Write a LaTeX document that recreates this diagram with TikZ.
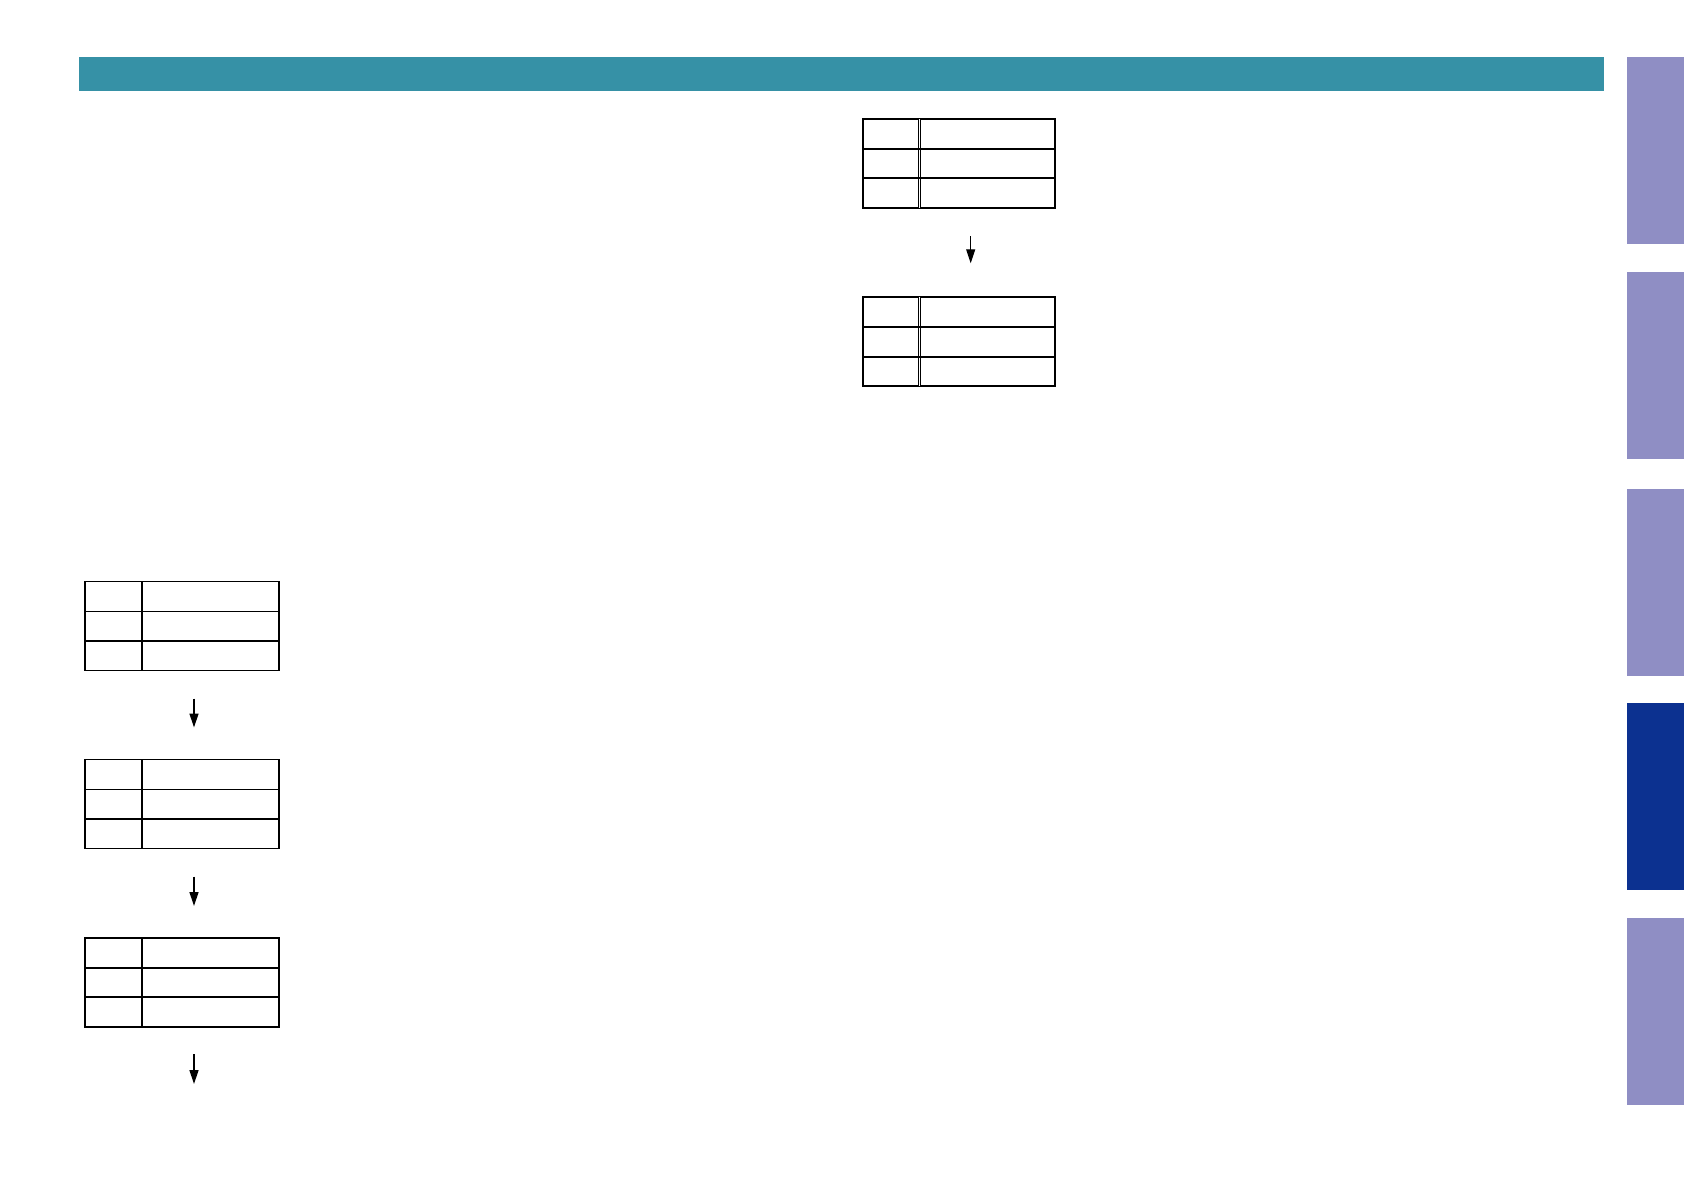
\documentclass[tikz,border=0pt]{standalone}
\usetikzlibrary{arrows.meta,calc}
\definecolor{hdrcol}{HTML}{3691A6}
\definecolor{tabcol}{HTML}{8F8EC4}
\definecolor{tabdark}{HTML}{0C3190}
\begin{document}
\begin{tikzpicture}[x=1pt,y=-1pt,
  tbl/.style={draw,line width=1.9pt,minimum width=194pt,minimum height=89pt,inner sep=0pt,outer sep=0pt},
  inline/.style={line width=1.9pt},
  dbl/.style={line width=0.9pt,double,double distance=1pt},
  flowarrow/.style={line width=1.3pt,-{Triangle[length=14pt,width=9pt]}}]
\useasboundingbox (0,0) rectangle (1684,1191);
\fill[white] (0,0) rectangle (1684,1191);
% header bar
\node[fill=hdrcol,minimum width=1525pt,minimum height=34pt,inner sep=0pt,anchor=north west] (hdr) at (79,57) {};
% side tabs
\foreach \n/\y/\c in {1/57/tabcol,2/272/tabcol,3/489/tabcol,4/703/tabdark,5/918/tabcol}
  \node[fill=\c,minimum width=57pt,minimum height=187pt,inner sep=0pt,anchor=north west] (tab\n) at (1627,\y) {};
% left tables
\foreach \n/\y in {1/581.5,2/759.5,3/938}{
  \node[tbl,anchor=north west] (L\n) at (85,\y) {};
  \draw[inline] ($(L\n.north west)+(57.3,0)$) -- ($(L\n.south west)+(57.3,0)$);
  \draw[inline] ($(L\n.north west)+(0,30)$) -- ($(L\n.north east)+(0,30)$);
  \draw[inline] ($(L\n.north west)+(0,59.3)$) -- ($(L\n.north east)+(0,59.3)$);
}
% right tables
\foreach \n/\y in {1/119,2/297.3}{
  \node[tbl,minimum width=192.3pt,minimum height=88.7pt,anchor=north west] (R\n) at (862.7,\y) {};
  \draw[dbl] ($(R\n.north west)+(56.5,0)$) -- ($(R\n.south west)+(56.5,0)$);
  \draw[inline] ($(R\n.north west)+(0,30)$) -- ($(R\n.north east)+(0,30)$);
  \draw[inline] ($(R\n.north west)+(0,59.3)$) -- ($(R\n.north east)+(0,59.3)$);
}
% arrows
\coordinate (endL) at (194,1084);
\draw[flowarrow] ($(L1.south west)+(109,28)$) -- ($(L2.north west)+(109,-32)$);
\draw[flowarrow] ($(L2.south west)+(109,28)$) -- ($(L3.north west)+(109,-32)$);
\draw[flowarrow] ($(L3.south west)+(109,27)$) -- (endL);
\draw[flowarrow] ($(R1.south west)+(108,28.3)$) -- ($(R2.north west)+(108,-34)$);
\end{tikzpicture}
\end{document}
